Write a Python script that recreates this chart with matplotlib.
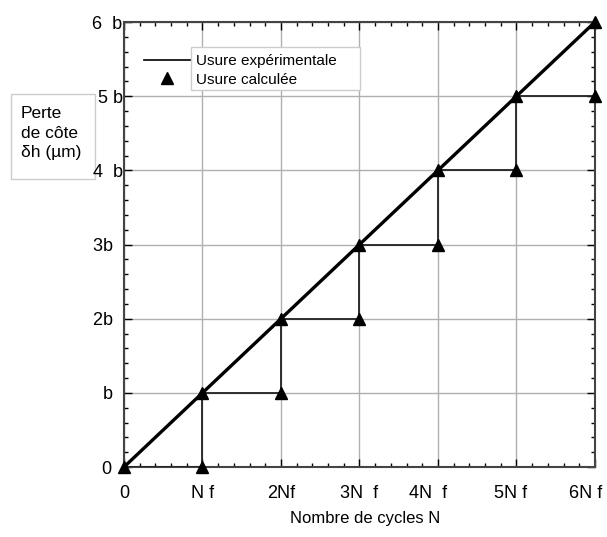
import numpy as np
import matplotlib
matplotlib.use('Agg')
import matplotlib.pyplot as plt
import matplotlib.transforms as mtransforms
from matplotlib.patches import Rectangle
from matplotlib.lines import Line2D
from matplotlib.ticker import MultipleLocator

plt.rcParams['font.family'] = ['Liberation Sans', 'DejaVu Sans']

# usure experimentale : droite de 0 a 6b
exp_x = [0, 6]
exp_y = [0, 6]

# usure calculee : escalier
calc_x = [0, 1, 1, 2, 2, 3, 3, 4, 4, 5, 5, 6, 6]
calc_y = [0, 0, 1, 1, 2, 2, 3, 3, 4, 4, 5, 5, 6]

xtick_labels = ['0', 'N f', '2Nf', '3N  f', '4N  f', '5N f', '6N f']
ytick_labels = ['0  ', 'b  ', '2b  ', '3b  ', '4  b', '5 b', '6  b']

fig = plt.figure(figsize=(6.07, 5.37), dpi=100)
ax = fig.add_axes([124 / 607, 1 - 467 / 537, 471 / 607, 445 / 537])

ax.grid(True, color='#b0b0b0', linewidth=1.0)
ax.set_axisbelow(True)

ax.plot(calc_x, calc_y, color='#222222', linewidth=1.3, zorder=3)
ax.plot(calc_x, calc_y, linestyle='none', marker='^', color='black',
        markersize=8, zorder=5, clip_on=False)
ax.plot(exp_x, exp_y, color='black', linewidth=2.4, zorder=4)

ax.set_xlim(0, 6)
ax.set_ylim(0, 6)
ax.set_xticks(range(7))
ax.set_yticks(range(7))
ax.set_xticklabels(xtick_labels, fontsize=13)
ax.set_yticklabels(ytick_labels, fontsize=13)
ax.xaxis.set_minor_locator(MultipleLocator(0.2))
ax.yaxis.set_minor_locator(MultipleLocator(0.2))
ax.tick_params(which='both', direction='in', top=True, right=True)
ax.tick_params(which='major', length=6, width=1)
ax.tick_params(axis='x', which='major', pad=13)
ax.tick_params(axis='y', which='major', pad=1)
ax.tick_params(which='minor', length=3, width=1)
for s in ax.spines.values():
    s.set_color('#444444')
    s.set_linewidth(1.5)

# petits decalages des etiquettes x comme sur l'original
for lab, dx in zip(ax.get_xticklabels(), [0, 0, 0, 0, -10, -6, -9]):
    lab.set_transform(lab.get_transform() +
                      mtransforms.ScaledTranslation(dx / 100, 0, fig.dpi_scale_trans))

fig.text(365 / 607, 1 - 518 / 537, 'Nombre de cycles N', fontsize=12,
         ha='center', va='center')

# boite du label y
fig.patches.append(Rectangle((11 / 607, 1 - 179 / 537), 84 / 607, 85 / 537,
                             transform=fig.transFigure, facecolor='white',
                             edgecolor='#cccccc', linewidth=1, zorder=-1))
fig.text(21 / 607, 1 - 133 / 537, 'Perte\nde côte\nδh (µm)', fontsize=12.5,
         ha='left', va='center', linespacing=1.35)

# legende
handles = [Line2D([], [], color='black', linewidth=1.2),
           Line2D([], [], color='black', marker='^', linestyle='none',
                  markersize=8)]
leg = ax.legend(handles, ['Usure expérimentale', 'Usure calculée'],
                loc='upper left', bbox_to_anchor=(8 / 471, 1 - 20 / 445),
                frameon=False, fontsize=11, handlelength=3.0,
                handletextpad=0.4, labelspacing=0.3, borderpad=0.3)
leg.set_zorder(10)
ax.add_patch(Rectangle((191 / 607, 1 - 90 / 537), 169 / 607, 43 / 537,
                       transform=fig.transFigure, facecolor='white',
                       edgecolor='#cccccc', linewidth=1, zorder=2,
                       clip_on=False))

fig.savefig('out.png', dpi=100)
